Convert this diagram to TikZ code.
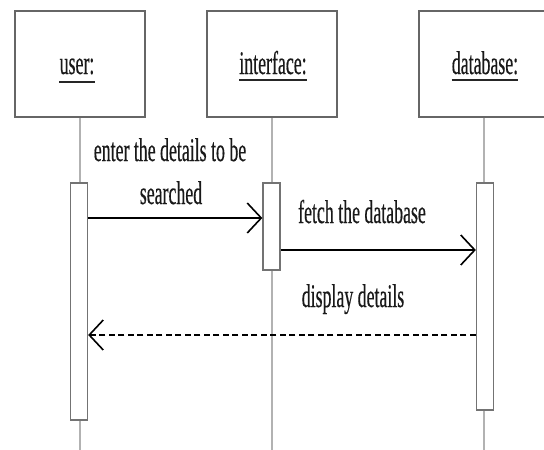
\documentclass[tikz,border=0pt]{standalone}
\usepackage{fontspec}
\setmainfont{Liberation Serif}[FakeStretch=0.54,FakeBold=0.4]
\usetikzlibrary{arrows.meta}

\begin{document}
\begin{tikzpicture}[x=1pt,y=-1pt,
	obj/.style={draw=black!60,line width=1.5pt,minimum width=130pt,minimum height=106pt,inner sep=0},
	bar/.style={draw=black!55,fill=white,line width=1.3pt,minimum width=17pt,inner sep=0},
	life/.style={black!30,line width=1.2pt},
	msg/.style={line width=1.6pt,-{Straight Barb[length=14pt,width=30pt]}},
	txt/.style={inner sep=0,anchor=base,text=black!90,font=\fontsize{33}{40}\selectfont},
	uline/.style={black!85,line width=1.5pt}]
\useasboundingbox (0,0) rectangle (544,450);
\clip (0,0) rectangle (544,450);
\coordinate (bot) at (0,452);

% objects
\node[obj] (user) at (80,64) {};
\node[obj] (iface) at (272,64) {};
\node[obj] (db) at (484,64) {};
\node[txt] (ulbl) at (77,74) {user:};
\node[txt] (ilbl) at (273,74) {interface:};
\node[txt] (dlbl) at (485,74) {database:};
\draw[uline] ([yshift=-8pt]ulbl.base west) -- ([yshift=-8pt]ulbl.base east);
\draw[uline] ([yshift=-6pt]ilbl.base west) -- ([yshift=-6pt]ilbl.base east);
\draw[uline] ([yshift=-6pt]dlbl.base west) -- ([yshift=-6pt]dlbl.base east);

% lifelines
\draw[life] (user.south) -- (user.south |- bot);
\draw[life] (iface.south) -- (iface.south |- bot);
\draw[life] (db.south) -- (db.south |- bot);

% activations
\node[bar,minimum height=237pt] (ubar) at (79,301.5) {};
\node[bar,minimum height=87pt] (ibar) at (271.5,226.5) {};
\node[bar,minimum height=227pt] (dbar) at (485,296.5) {};

% messages
\coordinate (m1) at (0,218);
\coordinate (m2) at (0,250);
\coordinate (m3) at (0,335);
\draw[msg] (ubar.east |- m1) -- (ibar.west |- m1);
\draw[msg] (ibar.east |- m2) -- (dbar.west |- m2);
\draw[msg,dash pattern=on 6pt off 3.5pt] (dbar.west |- m3) -- (ubar.east |- m3);

\node[txt] (t1a) at (170,161) {enter the details to be};
\node[txt] (t1b) at (171,204) {searched};
\node[txt] (t2) at (362,223) {fetch the database};
\node[txt] (t3) at (353,307) {display details};

\end{tikzpicture}
\end{document}
